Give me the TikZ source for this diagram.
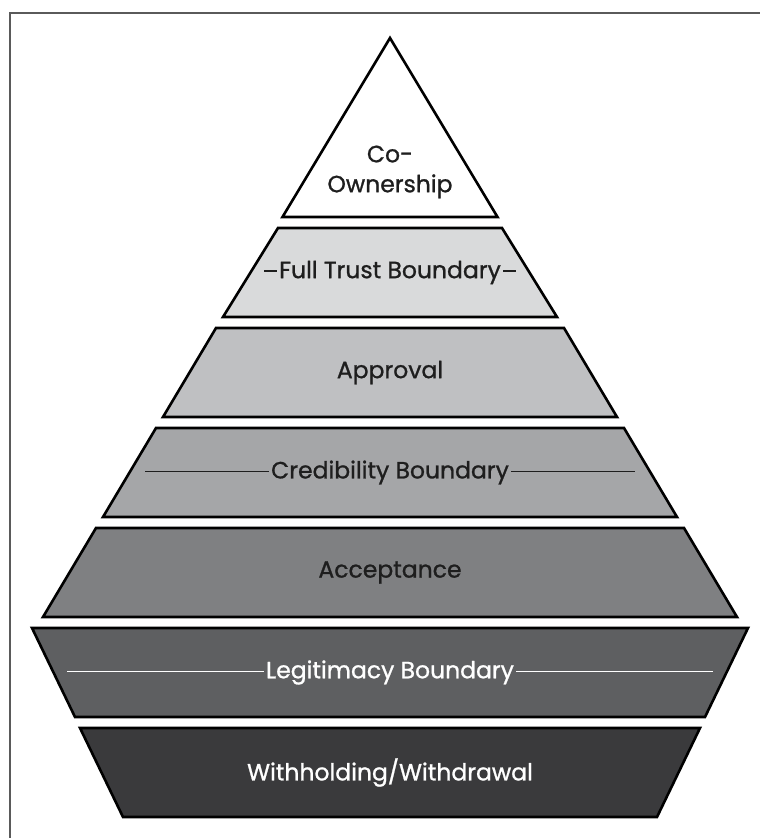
\documentclass[tikz,border=0pt]{standalone}
\usepackage{fontspec}
\setmainfont{Poppins}[FakeBold=1.0]
\usetikzlibrary{positioning,calc}

\definecolor{framegray}{HTML}{5A5A5A}
\definecolor{inkdark}{HTML}{1E1E1E}
\definecolor{trustgray}{HTML}{D9DADB}
\definecolor{apprgray}{HTML}{BFC0C2}
\definecolor{credgray}{HTML}{A5A6A8}
\definecolor{acceptgray}{HTML}{7F8082}
\definecolor{legitgray}{HTML}{5E5F61}
\definecolor{withgray}{HTML}{3A3A3C}

\begin{document}
\begin{tikzpicture}[
    x=1pt, y=-1pt,
    layer/.style={draw=black, line width=2.6pt, line join=miter},
    label/.style={font=\fontsize{23.5}{30}\selectfont, text=inkdark, align=center, inner sep=2pt},
    lightlabel/.style={label, text=white},
    rule/.style={line width=1.4pt, draw=inkdark},
    lightrule/.style={line width=1.4pt, draw=white},
]

\useasboundingbox (0,0) rectangle (760,838);

% Frame (open on the right and bottom)
\draw[framegray, line width=2pt] (9.5,838) -- (9.5,13) -- (760,13);

% Apex
\draw[layer, fill=white] (390,38) -- (497.5,217) -- (282.5,217) -- cycle;

% Upper layers
\draw[layer, fill=trustgray] (278,228) -- (502,228) -- (557,317) -- (223,317) -- cycle;
\draw[layer, fill=apprgray] (216,328) -- (564,328) -- (617,417) -- (163,417) -- cycle;
\draw[layer, fill=credgray] (156,428) -- (624,428) -- (677,517) -- (103,517) -- cycle;
\draw[layer, fill=acceptgray] (96,528) -- (684,528) -- (737,617) -- (43,617) -- cycle;

% Lower layers (narrowing downwards)
\draw[layer, fill=legitgray] (32,628) -- (748,628) -- (705,717) -- (75,717) -- cycle;
\draw[layer, fill=withgray] (80,728) -- (700,728) -- (657,817) -- (123,817) -- cycle;

% Labels
\node[label] (coown) at (390,172) {Co-\\Ownership};
\node[label] (trust) at (390,272.5) {Full Trust Boundary};
\node[label] (appr) at (390,372.5) {Approval};
\node[label] (cred) at (390,472.5) {Credibility Boundary};
\node[label] (accept) at (390,572.5) {Acceptance};
\node[lightlabel] (legit) at (390,672.5) {Legitimacy Boundary};
\node[lightlabel] (withhold) at (390,772.5) {Withholding/Withdrawal};

% Boundary rules
\coordinate (credL) at (145,0);
\coordinate (credR) at (635,0);
\coordinate (legitL) at (67,0);
\coordinate (legitR) at (713,0);

\draw[rule] ([yshift=7pt]trust.base west) -- ++(-13,0);
\draw[rule] ([yshift=7pt]trust.base east) -- ++(13,0);
\draw[rule] ([yshift=7pt]cred.base west) -- ([yshift=7pt]cred.base west -| credL);
\draw[rule] ([yshift=7pt]cred.base east) -- ([yshift=7pt]cred.base east -| credR);
\draw[lightrule] ([yshift=7pt]legit.base west) -- ([yshift=7pt]legit.base west -| legitL);
\draw[lightrule] ([yshift=7pt]legit.base east) -- ([yshift=7pt]legit.base east -| legitR);

\end{tikzpicture}
\end{document}
